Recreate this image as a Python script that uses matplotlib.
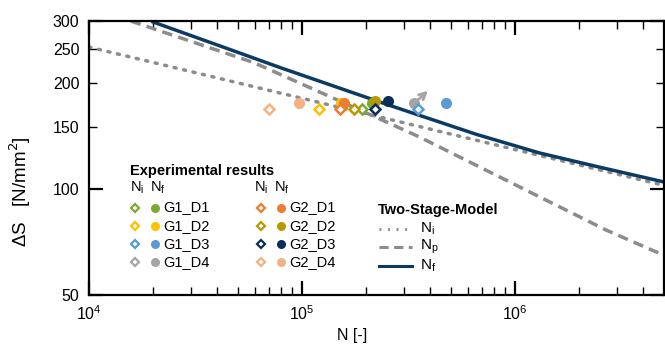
import matplotlib
matplotlib.use('Agg')
import matplotlib.pyplot as plt
from matplotlib.ticker import FixedLocator, FixedFormatter, NullFormatter

plt.rcParams['font.family'] = ['Liberation Sans', 'DejaVu Sans']

# Two-Stage-Model curves
ni_N = [1.0e4, 4.9e6]
ni_S = [253, 102.7]
np_N = [1.57e4, 6.0e4, 2.49e5, 3.55e5, 2.67e6, 4.72e6]
np_S = [300, 228, 155, 140.6, 76.5, 65.8]
nf_N = [2.0e4, 4.11e4, 7.93e4, 2.49e5, 6.57e5, 1.30e6, 2.47e6, 5.0e6]
nf_S = [298, 255, 221, 174, 143, 126.6, 115.5, 104.7]

# experimental results: name, colour, N_i, S_i, N_f, S_f
specimens = ['G1_D1', 'G1_D2', 'G1_D3', 'G1_D4', 'G2_D1', 'G2_D2', 'G2_D3', 'G2_D4']
colors = ['#7fa832', '#ffc000', '#5b9bd5', '#a5a5a5', '#ed7d31', '#b89a00', '#0b2e59', '#f4b183']
exp_Ni = [1.92e5, 1.20e5, 3.51e5, None, 1.51e5, 1.76e5, 2.19e5, 7.0e4]
exp_Si = [168.8, 168.8, 168.8, None, 168.8, 168.8, 168.8, 168.8]
exp_Nf = [2.12e5, 1.53e5, 4.75e5, 3.36e5, 1.58e5, 2.19e5, 2.52e5, 9.66e4]
exp_Sf = [175.2, 175.2, 175.2, 175.2, 175.2, 177.9, 177.9, 175.2]

navy = '#0b3a63'
grey = '#8c8c8c'

fig = plt.figure(figsize=(6.65, 3.45), dpi=100)
ax = fig.add_axes([89/665, 50/345, 575/665, 274/345])

ax.plot(ni_N, ni_S, color=grey, lw=2.5, ls=(0, (0.6, 2.2)), dash_capstyle='round')
ax.plot(np_N, np_S, color=grey, lw=2.5, ls=(0, (3, 1.8)))
ax.plot(nf_N, nf_S, color=navy, lw=2.5)

for i in range(len(specimens)):
    if exp_Nf[i] is not None:
        ax.plot(exp_Nf[i], exp_Sf[i], 'o', color=colors[i], ms=8, mec='none')
for i in range(len(specimens)):
    if exp_Ni[i] is not None:
        ax.plot(exp_Ni[i], exp_Si[i], 'D', mfc='white', mec=colors[i], mew=1.8, ms=5)

# run-out arrow
ax.annotate('', xy=(exp_Nf[3], exp_Sf[3]), xytext=(10, 9), textcoords='offset points',
            arrowprops=dict(arrowstyle='<-', color='#a5a5a5', lw=2, mutation_scale=12,
                            shrinkA=0, shrinkB=1))

ax.set_xscale('log')
ax.set_yscale('log')
ax.set_xlim(1e4, 5e6)
ax.set_ylim(50, 300)

ax.yaxis.set_major_locator(FixedLocator([50, 100, 300]))
ax.yaxis.set_major_formatter(FixedFormatter(['50', '100', '300']))
ax.yaxis.set_minor_locator(FixedLocator([150, 200, 250]))
ax.yaxis.set_minor_formatter(FixedFormatter(['150', '200', '250']))

for s in ax.spines.values():
    s.set_linewidth(1.6)
ax.tick_params(which='both', direction='in', top=True, right=True, labelsize=11.5, pad=7)
ax.tick_params(which='major', length=10, width=1.6)
ax.tick_params(which='minor', length=6, width=1.0)
ax.xaxis.set_minor_formatter(NullFormatter())

ax.set_xlabel('N [-]', fontsize=11.5)
ax.xaxis.set_label_coords((352 - 89) / 575, (295 - 328) / 274)
ax.set_ylabel('ΔS   [N/mm$^2$]', fontsize=13.5)
ax.yaxis.set_label_coords((33 - 89) / 575, (295 - 192) / 274)

# legend drawn by hand in axes coordinates
def ax_xy(px, py):
    return (px - 89) / 575, (295 - py) / 274

tr = ax.transAxes
fs = 10.5
x0, y0 = ax_xy(130, 171)
ax.text(x0, y0, 'Experimental results', transform=tr, fontsize=fs, fontweight='bold', va='center')
for gx in (130, 254):
    x1, y1 = ax_xy(gx, 188)
    ax.text(x1, y1, 'N$_\\mathregular{i}$', transform=tr, fontsize=fs, va='center')
    x2, _ = ax_xy(gx + 20, 188)
    ax.text(x2, y1, 'N$_\\mathregular{f}$', transform=tr, fontsize=fs, va='center')

for i, name in enumerate(specimens):
    col = i // 4
    row = i % 4
    base = 135 if col == 0 else 261
    py = 207.5 + row * 18.3
    xd, yd = ax_xy(base, py)
    xc, _ = ax_xy(base + 20, py)
    xt, _ = ax_xy(base + 28, py)
    ax.plot(xd, yd, 'D', transform=tr, mfc='white', mec=colors[i], mew=1.6, ms=4.5, clip_on=False)
    ax.plot(xc, yd, 'o', transform=tr, color=colors[i], ms=6.5, mec='none', clip_on=False)
    ax.text(xt, yd, name, transform=tr, fontsize=fs, va='center')

x0, y0 = ax_xy(378, 210)
ax.text(x0, y0, 'Two-Stage-Model', transform=tr, fontsize=fs, fontweight='bold', va='center')
styles = [(grey, (0, (0.6, 2.2))), (grey, (0, (3, 1.8))), (navy, '-')]
labels = ['N$_\\mathregular{i}$', 'N$_\\mathregular{p}$', 'N$_\\mathregular{f}$']
for k in range(3):
    py = 228.5 + k * 18.5
    xa, ya = ax_xy(379, py)
    xb, _ = ax_xy(412, py)
    xt, _ = ax_xy(420, py)
    ax.plot([xa, xb], [ya, ya], transform=tr, color=styles[k][0], ls=styles[k][1], lw=2.2)
    ax.text(xt, ya, labels[k], transform=tr, fontsize=11, va='center')

fig.savefig('out.png', dpi=100)
